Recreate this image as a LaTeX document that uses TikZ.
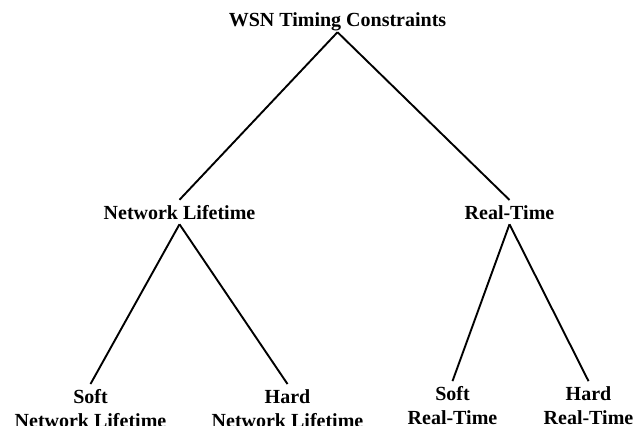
\documentclass[tikz,border=0pt]{standalone}
\usepackage{fontspec}
\setmainfont{Liberation Serif}
\usepackage{tikz}

\begin{document}
\begin{tikzpicture}[level 1/.style={sibling distance=330pt, level distance=199pt},
  level 2/.style={sibling distance=168pt, level distance=172pt},
  every node/.style={font=\bfseries\fontsize{20}{24}\selectfont, inner sep=5pt, text depth=0pt, align=center, anchor=base},
  leaf/.style={anchor=north},
  edge from parent/.style={draw, line width=1.9pt},
  edge from parent path={(\tikzparentnode.south) -- (\tikzchildnode.north)}]
  \useasboundingbox (0,0) rectangle (644pt,-425pt);
  \node (wsn) at (337.5pt,-27pt) {WSN Timing Constraints}
   child[xshift=7pt]{
    node (nl) {Network Lifetime}
     child[xshift=-5pt]{
      node[leaf] (softnl) {Soft\\Network Lifetime}
     }
     child[xshift=24pt]{
      node[leaf] (hardnl) {Hard\\Network Lifetime}
     }
   }
   child[xshift=7pt]{
    node (rt) {Real-Time}
     child[xshift=27pt, yshift=3pt]{
      node[leaf] (softrt) {Soft\\Real-Time}
     }
     child[xshift=-5pt, yshift=3pt]{
      node[leaf] (hardrt) {Hard\\Real-Time}
     }
   };
\end{tikzpicture}
\end{document}
